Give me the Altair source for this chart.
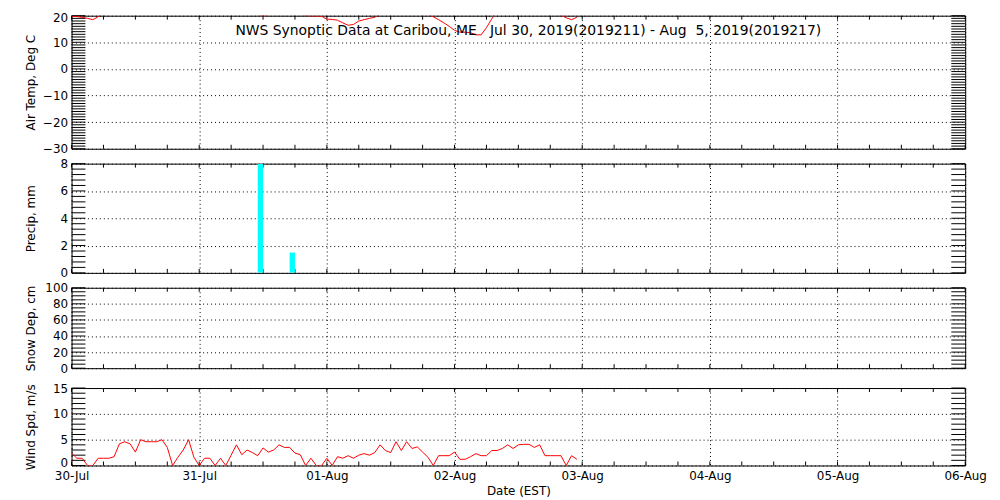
import altair as alt
import pandas as pd

# ---------------- data ----------------
hours = list(range(96))  # hours since 30-Jul 00:00 EST

temp_c = [19.8, 19.7, 19.4, 19.0, 18.5, 19.6, 20.8, 22.0, 23.5, 25.0, 26.5, 27.5,
          28.5, 29.0, 29.5, 29.5, 29.0, 28.0, 26.5, 25.0, 24.0, 23.0, 22.5, 22.0,
          21.5, 21.0, 20.8, 20.5, 20.5, 21.0, 22.0, 23.0, 23.5, 22.0, 21.0, 20.4,
          19.9, 20.4, 21.5, 22.5, 23.0, 22.0, 21.0, 20.5, 20.1, 19.9, 19.9, 19.8,
          18.7, 18.6, 18.3, 17.3, 16.4, 16.7, 18.0, 18.5, 19.0, 19.4, 20.6, 23.0,
          25.0, 26.5, 27.5, 28.0, 27.5, 26.0, 23.0, 20.5, 19.6, 18.5, 17.3, 16.0,
          14.5, 13.8, 13.8, 13.6, 12.8, 12.8, 15.5, 18.8, 21.5, 23.5, 25.0, 26.0,
          26.5, 26.5, 26.0, 25.0, 23.5, 22.0, 21.0, 20.5, 20.2, 19.2, 18.5, 19.4]

wind_ms = [2.4, 1.4, 1.4, 0.0, 0.0, 1.4, 1.4, 1.4, 1.7, 4.2, 4.6, 4.2,
           2.6, 5.0, 4.6, 4.6, 4.6, 5.0, 3.5, 0.0, 1.6, 3.0, 5.0, 1.6,
           0.0, 1.4, 1.4, 0.0, 1.4, 0.0, 2.0, 4.0, 2.1, 3.0, 2.5, 1.9,
           3.4, 2.6, 3.0, 4.0, 3.5, 3.5, 2.4, 2.1, 0.0, 1.4, 0.0, 0.0,
           1.4, 0.0, 1.7, 1.4, 1.9, 1.4, 2.0, 2.3, 2.0, 2.5, 4.0, 2.9,
           2.5, 4.6, 2.9, 4.6, 3.3, 3.6, 2.6, 1.6, 0.0, 1.9, 1.9, 1.9,
           2.6, 1.2, 1.2, 1.7, 2.3, 1.9, 1.9, 2.9, 2.9, 3.3, 4.0, 3.3,
           4.0, 4.1, 4.1, 3.5, 4.0, 1.9, 1.9, 1.9, 1.9, 0.0, 1.9, 1.2]

precip_start = [35, 41]
precip_end = [36, 42]
precip_mm = [8.0, 1.5]

day_hours = [0, 24, 48, 72, 96, 120, 144, 168]
day_labels = ["30-Jul", "31-Jul", "01-Aug", "02-Aug", "03-Aug", "04-Aug", "05-Aug", "06-Aug"]
six_hours = list(range(0, 169, 6))

NB = "\u00a0"
title_text = ("NWS Synoptic Data at Caribou, ME" + NB * 3 + "Jul 30, 2019(2019211) - Aug" + NB * 2
              + "5, 2019(2019217)")

# ---------------- style ----------------
FONT = "DejaVu Sans"
W = 900
H_T, H_P, H_S, H_W = 134, 110, 81, 78
GAPS = [15, 15, 20]
TICK = 14
XTICK = 4

xscale = alt.Scale(domain=[0, 168], nice=False, zero=False)

series = pd.DataFrame({"h": hours, "temp": temp_c, "wind": wind_ms})
precip = pd.DataFrame({"h0": precip_start, "h1": precip_end, "mm": precip_mm})

label_expr = "[" + ",".join("'%s'" % d for d in day_labels) + "][round(datum.value/24)]"


def frame(ymin, ymax, major, minor, height, ytitle, bottom=False, label_offset=0):
    yscale = alt.Scale(domain=[ymin, ymax], nice=False, zero=False)
    yaxis_kw = dict(title=ytitle, values=major, grid=True, gridDash=[1, 3],
                    gridColor="black", gridOpacity=1, ticks=False, domain=False,
                    labelPadding=4, minExtent=30, maxExtent=30, titlePadding=4,
                    labelFontSize=12, titleFontSize=12)
    if label_offset:
        yaxis_kw["labelOffset"] = label_offset
    yaxis = alt.Axis(**yaxis_kw)
    if bottom:
        xaxis = alt.Axis(title="Date (EST)", values=day_hours, grid=True, gridDash=[1, 3],
                         gridColor="black", gridOpacity=1, ticks=False, domain=False,
                         labelExpr=label_expr,
                         labelPadding=5, labelFlush=False, labelOverlap=False,
                         titlePadding=4, labelFontSize=12, titleFontSize=12)
    else:
        xaxis = alt.Axis(title=None, values=day_hours, grid=True, gridDash=[1, 3],
                         gridColor="black", gridOpacity=1, ticks=False, domain=False,
                         labels=False)
    ydf = pd.DataFrame({"v": minor})
    xdf = pd.DataFrame({"h": six_hours})
    left = alt.Chart(ydf).mark_rule(color="black", strokeWidth=1).encode(
        y=alt.Y("v:Q", scale=yscale, axis=yaxis), x=alt.value(0), x2=alt.value(TICK))
    right = alt.Chart(ydf).mark_rule(color="black", strokeWidth=1).encode(
        y=alt.Y("v:Q", scale=yscale, axis=yaxis), x=alt.value(W - TICK), x2=alt.value(W))
    top = alt.Chart(xdf).mark_rule(color="black", strokeWidth=1).encode(
        x=alt.X("h:Q", scale=xscale, axis=xaxis), y=alt.value(0), y2=alt.value(XTICK))
    bot = alt.Chart(xdf).mark_rule(color="black", strokeWidth=1).encode(
        x=alt.X("h:Q", scale=xscale, axis=xaxis), y=alt.value(height), y2=alt.value(height - XTICK))
    return yscale, yaxis, xaxis, [left, right, top, bot]


def spacer(h):
    return alt.Chart(pd.DataFrame({"a": [0]})).mark_point(opacity=0).encode(
        x=alt.value(0), y=alt.value(0)).properties(
        width=W, height=h, view=alt.ViewConfig(stroke="transparent"))


# Temperature panel
ys, ya, xa, fl = frame(-30, 20, [-30, -20, -10, 0, 10, 20], list(range(-30, 21)), H_T,
                       "Air Temp, Deg C",
                       label_offset={"condition": {"test": "datum.value == 20", "value": 2}, "value": 0})
temp_line = alt.Chart(series).mark_line(color="#ff0000", strokeWidth=1, clip=True).encode(
    x=alt.X("h:Q", scale=xscale, axis=xa), y=alt.Y("temp:Q", scale=ys, axis=ya))
title = alt.Chart(pd.DataFrame({"t": [title_text]})).mark_text(
    font=FONT, fontSize=14, color="black", align="center", baseline="middle").encode(
    text="t:N", x=alt.value(460), y=alt.value(15))
p_temp = alt.layer(*fl, temp_line, title).properties(width=W, height=H_T)

# Precip panel
ys, ya, xa, fl = frame(0, 8, [0, 2, 4, 6, 8], [i * 0.4 for i in range(21)], H_P, "Precip, mm")
bars = alt.Chart(precip).mark_rect(color="#00ffff", clip=True).encode(
    x=alt.X("h0:Q", scale=xscale, axis=xa), x2="h1:Q",
    y=alt.Y("mm:Q", scale=ys, axis=ya), y2=alt.datum(0))
p_precip = alt.layer(*fl, bars).properties(width=W, height=H_P)

# Snow panel
ys, ya, xa, fl = frame(0, 100, [0, 20, 40, 60, 80, 100], list(range(0, 101, 5)), H_S, "Snow Dep, cm")
p_snow = alt.layer(*fl).properties(width=W, height=H_S)

# Wind panel
ys, ya, xa, fl = frame(0, 15, [0, 5, 10, 15], list(range(0, 16)), H_W, "Wind Spd, m/s", bottom=True,
                       label_offset={"condition": {"test": "datum.value == 0", "value": -3}, "value": 0})
wind_line = alt.Chart(series).mark_line(color="#ff0000", strokeWidth=1, clip=True).encode(
    x=alt.X("h:Q", scale=xscale, axis=xa), y=alt.Y("wind:Q", scale=ys, axis=ya))
p_wind = alt.layer(*fl, wind_line).properties(width=W, height=H_W)

chart = alt.vconcat(p_temp, spacer(GAPS[0]), p_precip, spacer(GAPS[1]), p_snow,
                    spacer(GAPS[2]), p_wind, spacing=0, bounds="flush").properties(
    padding={"left": 16, "top": 1, "right": 5, "bottom": 0}
).configure_axis(
    labelFont=FONT, titleFont=FONT, labelColor="black", titleColor="black",
    titleFontWeight="normal"
).configure_view(stroke="black", strokeWidth=1)

chart.save("out.html", embed_options={"renderer": "svg", "actions": False})
